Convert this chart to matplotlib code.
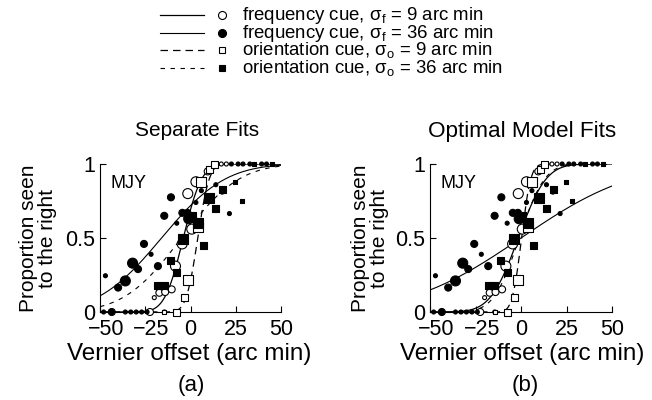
import numpy as np
import matplotlib
matplotlib.use("Agg")
import matplotlib.pyplot as plt
import matplotlib.transforms as mtransforms
from math import erf

plt.rcParams['font.family'] = ['Liberation Sans', 'DejaVu Sans']
plt.rcParams['mathtext.default'] = 'regular'

# ---------------- data (x offset arc min, proportion, size class) ----------------
freq9_x = [-22.4, -14.4, -20, -17.2, -14, -10.4, -8.3, -4.6, 0.7, -1.5, 3, 9.5, 14.3, 17, 19.8]
freq9_y = [0, 0, 0.097, 0.13, 0.135, 0.153, 0.31, 0.46, 0.56, 0.80, 0.88, 0.95, 1, 1, 1]
freq9_s = [2, 1, 1, 2, 2, 2, 3, 3, 3, 3, 3, 2, 1, 1, 1]

freq36_x = [-47, -48, -43.5, -36, -33, -30, -27, -24, -40, -36, -32, -29, -25.7, -21.8, -18,
            -14.5, -10.8, -7.6, -4.5, -1.7, -1, 3, 6, 14, 17.5, 21.5, 22.6, 26.3, 29, 32.8, 39.3, 42]
freq36_y = [0.245, 0, 0, 0, 0, 0, 0, 0, 0.165, 0.21, 0.33, 0.29, 0.46, 0.39, 0.31,
            0.65, 0.775, 0.6, 0.67, 0.67, 0.63, 0.74, 0.82, 0.86, 0.81, 0.665, 1, 1, 1, 1, 1, 1]
freq36_s = [1, 1, 2, 1, 1, 1, 1, 1, 2, 3, 3, 2, 2, 1, 2,
            2, 2, 1, 2, 2, 3, 1, 1, 1, 1, 1, 1, 1, 1, 1, 1, 1]

ori9_x = [-14.4, -7.6, -3.3, -1.5, 4, 6, 10.6, 13]
ori9_y = [0, 0, 0.1, 0.216, 0.576, 0.88, 0.96, 1]
ori9_s = [1, 2, 2, 3, 3, 3, 2, 2]

ori36_x = [-18, -14.4, -11.3, -7.6, -3.9, 0, 4, 7, 10, 14, 17.8, 24.8, 28.2, 35, 45]
ori36_y = [0.18, 0.18, 0.35, 0.265, 0.49, 0.64, 0.6, 0.45, 0.77, 0.70, 0.83, 0.88, 0.75, 1, 1]
ori36_s = [2, 2, 2, 2, 3, 3, 3, 2, 3, 2, 2, 1, 1, 1, 1]

# psychometric fits (cumulative Gaussian: mean, sd) -- order: freq9, freq36, ori9, ori36
fit_mu_a = [-4, -16, 4, -5]
fit_sd_a = [8, 27.6, 5, 25]
fit_mu_b = [-1.5, 0, 0.3, -1]
fit_sd_b = [12, 48, 4, 11]

x_ticks = [-50, -25, 0, 25, 50]
x_ticklabels = ['\u221250', '\u221225', '0', '25', '50']
y_ticks = [0, 0.5, 1]
y_ticklabels = ['0', '0.5', '1']

legend_labels = ['frequency cue, \u03c3$_f$ = 9 arc min',
                 'frequency cue, \u03c3$_f$ = 36 arc min',
                 'orientation cue, \u03c3$_o$ = 9 arc min',
                 'orientation cue, \u03c3$_o$ = 36 arc min']

# ---------------- styling ----------------
size_px = {1: 4.0, 2: 7.0, 3: 10.0}
series = [
    (freq9_x, freq9_y, freq9_s, 'o', 'white'),
    (freq36_x, freq36_y, freq36_s, 'o', 'black'),
    (ori9_x, ori9_y, ori9_s, 's', 'white'),
    (ori36_x, ori36_y, ori36_s, 's', 'black'),
]
line_styles = ['-', '-', (0, (6, 4)), (0, (4, 5))]
line_widths = [0.9, 0.8, 0.9, 0.8]

ncdf = np.vectorize(lambda z: 0.5 * (1 + erf(z / np.sqrt(2))))

W, H = 652, 400
fig = plt.figure(figsize=(W / 100, H / 100), dpi=100)
TICK_FS = 15.5


def make_axes(left_px, right_px, mus, sds):
    ax = fig.add_axes([left_px / W, 1 - 312 / H, (right_px - left_px) / W, (312 - 164) / H])
    ax.set_xlim(-50, 50)
    ax.set_ylim(0, 1)
    for s in ['top', 'right']:
        ax.spines[s].set_visible(False)
    for s in ['left', 'bottom']:
        ax.spines[s].set_linewidth(0.8)
    ax.set_xticks(x_ticks)
    ax.set_xticklabels(x_ticklabels)
    ax.set_yticks(y_ticks)
    ax.set_yticklabels(y_ticklabels)
    ax.tick_params(direction='in', length=4, width=0.8, labelsize=TICK_FS)
    ax.tick_params(axis='x', pad=5)
    ax.tick_params(axis='y', pad=3.6)
    # digits centred on the tick, minus sign hanging to the left
    shift = mtransforms.ScaledTranslation(0.584 * TICK_FS / 2 / 72, 0, fig.dpi_scale_trans)
    for lab in ax.get_xticklabels():
        if lab.get_text().startswith('\u2212'):
            lab.set_transform(lab.get_transform() + shift)
    ax.patch.set_alpha(0)
    xs = np.linspace(-50, 50, 400)
    for mu, sd, ls, lw in zip(mus, sds, line_styles, line_widths):
        ax.plot(xs, ncdf((xs - mu) / sd), color='black', ls=ls, lw=lw, zorder=2)
    for xv, yv, sv, mk, fc in series:
        sizes = [(size_px[k] / 100 * 72) ** 2 for k in sv]
        ax.scatter(xv, yv, s=sizes, marker=mk, facecolors=fc, edgecolors='black',
                   linewidths=0.8, zorder=3, clip_on=False)
    ax.text(-44, 0.87, 'MJY', fontsize=13, va='center', ha='left')
    return ax


axa = make_axes(100, 281, fit_mu_a, fit_sd_a)
axb = make_axes(430, 612, fit_mu_b, fit_sd_b)

# titles and labels
fig.text(197 / W, 1 - 131 / H, 'Separate Fits', ha='center', va='center', fontsize=15)
fig.text(522 / W, 1 - 131 / H, 'Optimal Model Fits', ha='center', va='center', fontsize=16.2)
for cx, lab in [(189, '(a)'), (522, '(b)')]:
    fig.text(cx / W, 1 - 354 / H, 'Vernier offset (arc min)', ha='center', va='center', fontsize=17.5)
for cx, lab in [(191, '(a)'), (525, '(b)')]:
    fig.text(cx / W, 1 - 385 / H, lab, ha='center', va='center', fontsize=16)
for cx in [38, 370]:
    fig.text(cx / W, 1 - 238 / H, 'Proportion seen\nto the right', rotation=90,
             ha='center', va='center', fontsize=15, multialignment='center', linespacing=1.0)

# legend
lax = fig.add_axes([0, 0, 1, 1])
lax.set_xlim(0, W)
lax.set_ylim(H, 0)
lax.axis('off')
rows_y = [15, 33, 50, 68]
leg_marker_px = [8, 8, 6, 6]
for i, (ry, lab) in enumerate(zip(rows_y, legend_labels)):
    lax.plot([160, 204], [ry, ry], color='black', ls=line_styles[i], lw=line_widths[i])
    mk, fc = series[i][3], series[i][4]
    lax.plot([222], [ry], marker=mk, markersize=leg_marker_px[i] / 100 * 72, markerfacecolor=fc,
             markeredgecolor='black', markeredgewidth=0.8, ls='none')
    lax.text(242, ry, lab, ha='left', va='center', fontsize=13.4)

fig.savefig('out.png', dpi=100)
